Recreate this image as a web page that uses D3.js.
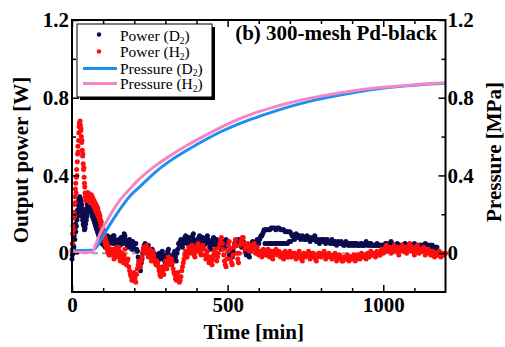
<!DOCTYPE html>
<html>
<head>
<meta charset="utf-8">
<script src="https://cdn.jsdelivr.net/npm/d3@7"></script>
<style>
  body { margin: 0; background: #fff; }
  svg text { font-family: "Liberation Serif", "Times New Roman", serif; }
</style>
</head>
<body>
<svg id="chart" width="505" height="347"></svg>
<script>
// output power, D2 run, t = 0..120 min (1-min logging)
const powerD2Early = [
  -0.03, -0.01, 0.02, 0.00, 0.04, 0.07, 0.03, 0.09, 0.11, 0.07,
  0.13, 0.15, 0.11, 0.18, 0.14, 0.20, 0.17, 0.22, 0.19, 0.25,
  0.21, 0.27, 0.23, 0.28, 0.25, 0.29, 0.26, 0.28, 0.23, 0.27,
  0.21, 0.25, 0.19, 0.23, 0.17, 0.21, 0.15, 0.20, 0.14, 0.18,
  0.12, 0.17, 0.13, 0.19, 0.15, 0.21, 0.17, 0.23, 0.19, 0.25,
  0.21, 0.26, 0.22, 0.28, 0.24, 0.29, 0.25, 0.28, 0.23, 0.27,
  0.22, 0.26, 0.21, 0.25, 0.20, 0.24, 0.19, 0.23, 0.18, 0.22,
  0.17, 0.20, 0.16, 0.19, 0.15, 0.18, 0.14, 0.17, 0.13, 0.16,
  0.12, 0.15, 0.11, 0.14, 0.10, 0.13, 0.09, 0.12, 0.08, 0.11,
  0.07, 0.10, 0.06, 0.10, 0.07, 0.09, 0.05, 0.09, 0.06, 0.10,
  0.05, 0.07, 0.04, 0.08, 0.05, 0.09, 0.06, 0.03, 0.07, 0.05,
  0.08, 0.04, 0.07, 0.05, 0.09, 0.06, 0.03, 0.07, 0.05, 0.08,
  0.06
];
// output power, H2 run, t = 0..120 min (1-min logging)
const powerH2Early = [
  0.01, 0.05, 0.10, 0.14, 0.18, 0.12, 0.21, 0.25, 0.19, 0.29,
  0.26, 0.33, 0.36, 0.31, 0.39, 0.43, 0.40, 0.47, 0.51, 0.55,
  0.52, 0.58, 0.62, 0.65, 0.67, 0.66, 0.68, 0.66, 0.63, 0.64,
  0.60, 0.57, 0.58, 0.53, 0.50, 0.51, 0.46, 0.43, 0.44, 0.39,
  0.36, 0.34, 0.31, 0.29, 0.27, 0.30, 0.28, 0.31, 0.29, 0.31,
  0.28, 0.31, 0.29, 0.31, 0.28, 0.30, 0.27, 0.30, 0.26, 0.29,
  0.29, 0.27, 0.30, 0.28, 0.26, 0.29, 0.27, 0.25, 0.28, 0.26,
  0.24, 0.27, 0.25, 0.23, 0.26, 0.24, 0.22, 0.25, 0.23, 0.21,
  0.24, 0.22, 0.20, 0.23, 0.21, 0.19, 0.21, 0.18, 0.20, 0.17,
  0.19, 0.16, 0.17, 0.14, 0.16, 0.13, 0.14, 0.11, 0.13, 0.10,
  0.12, 0.09, 0.11, 0.08, 0.09, 0.06, 0.08, 0.05, 0.07, 0.04,
  0.06, 0.03, 0.05, 0.02, 0.04, 0.01, 0.03, 0.00, 0.02, -0.01,
  0.01
];
// output power, D2 run, t = 125..1172.5 min (2.5-min logging), one row = 50 min
const powerD2Late = [
  0.08, 0.06, 0.05, 0.09, 0.09, 0.07, 0.06, 0.04, 0.03, 0.06, 0.07, 0.05, 0.04, 0.08, 0.08, 0.06, 0.05, 0.10, 0.09, 0.07,
  0.06, 0.04, 0.03, 0.06, 0.07, 0.05, 0.04, 0.02, 0.06, 0.03, 0.02, 0.05, 0.05, 0.02, 0.01, -0.02, -0.04, -0.07, -0.09, -0.05,
  -0.03, 0.00, 0.02, 0.04, 0.05, 0.03, 0.01, 0.03, 0.04, 0.01, 0.00, -0.01, -0.02, 0.02, 0.01, -0.02, -0.04, -0.01, -0.01, -0.03,
  -0.05, -0.02, 0.00, -0.01, -0.03, 0.00, 0.01, -0.01, -0.02, -0.04, -0.05, -0.02, -0.01, 0.01, 0.02, -0.01, -0.03, -0.05, -0.06, -0.03,
  -0.02, 0.00, 0.01, -0.02, -0.04, 0.00, 0.02, 0.05, 0.04, 0.06, 0.07, 0.05, 0.03, 0.05, 0.06, 0.08, 0.09, 0.06, 0.05, 0.07,
  0.08, 0.06, 0.04, 0.06, 0.07, 0.09, 0.10, 0.07, 0.06, 0.04, 0.03, 0.05, 0.07, 0.08, 0.09, 0.07, 0.05, 0.06, 0.08, 0.06,
  0.04, 0.05, 0.06, 0.08, 0.09, 0.07, 0.05, 0.03, 0.02, 0.04, 0.06, 0.07, 0.08, 0.06, 0.04, 0.05, 0.07, 0.05, 0.03, 0.04,
  0.05, 0.03, 0.02, 0.04, 0.06, 0.05, 0.03, 0.05, 0.07, 0.06, 0.04, 0.01, -0.01, 0.00, 0.02, 0.00, -0.02, 0.01, 0.03, 0.05,
  0.06, 0.05, 0.04, 0.06, 0.07, 0.06, 0.05, 0.04, 0.03, 0.05, 0.06, 0.05, 0.04, 0.01, -0.01, 0.00, 0.02, 0.00, -0.02, 0.01,
  0.04, 0.05, 0.06, 0.04, 0.03, 0.05, 0.05, 0.06, 0.07, 0.06, 0.05, 0.07, 0.08, 0.09, 0.09, 0.10, 0.11, 0.12, 0.05, 0.12,
  0.12, 0.05, 0.12, 0.05, 0.12, 0.05, 0.13, 0.05, 0.13, 0.05, 0.13, 0.05, 0.12, 0.05, 0.13, 0.05, 0.13, 0.05, 0.12, 0.05,
  0.12, 0.05, 0.12, 0.05, 0.11, 0.05, 0.11, 0.05, 0.11, 0.06, 0.11, 0.06, 0.10, 0.09, 0.09, 0.08, 0.07, 0.09, 0.10, 0.09,
  0.08, 0.09, 0.09, 0.08, 0.07, 0.08, 0.09, 0.08, 0.08, 0.07, 0.07, 0.08, 0.09, 0.08, 0.08, 0.07, 0.06, 0.07, 0.08, 0.07,
  0.07, 0.08, 0.09, 0.07, 0.06, 0.07, 0.07, 0.06, 0.05, 0.06, 0.07, 0.06, 0.06, 0.07, 0.07, 0.06, 0.05, 0.06, 0.07, 0.06,
  0.06, 0.06, 0.05, 0.06, 0.07, 0.06, 0.05, 0.05, 0.06, 0.05, 0.04, 0.05, 0.06, 0.05, 0.05, 0.05, 0.06, 0.05, 0.05, 0.04,
  0.04, 0.05, 0.06, 0.05, 0.05, 0.04, 0.04, 0.05, 0.05, 0.04, 0.04, 0.05, 0.05, 0.04, 0.04, 0.05, 0.05, 0.04, 0.04, 0.04,
  0.04, 0.05, 0.05, 0.04, 0.04, 0.04, 0.04, 0.05, 0.06, 0.05, 0.04, 0.04, 0.04, 0.05, 0.05, 0.04, 0.04, 0.04, 0.04, 0.04,
  0.04, 0.04, 0.05, 0.04, 0.04, 0.04, 0.04, 0.04, 0.04, 0.04, 0.04, 0.04, 0.04, 0.05, 0.05, 0.04, 0.04, 0.04, 0.04, 0.05,
  0.06, 0.05, 0.04, 0.04, 0.04, 0.04, 0.04, 0.04, 0.05, 0.04, 0.04, 0.04, 0.04, 0.04, 0.04, 0.04, 0.04, 0.04, 0.05, 0.04,
  0.04, 0.04, 0.04, 0.04, 0.03, 0.04, 0.04, 0.04, 0.04, 0.04, 0.05, 0.04, 0.04, 0.04, 0.03, 0.04, 0.04, 0.04, 0.04, 0.04,
  0.03, 0.04, 0.04, 0.04, 0.05, 0.04, 0.03, 0.04, 0.04, 0.04, 0.03, 0.04, 0.04, 0.04, 0.03, 0.03, 0.02, 0.03, 0.03, 0.03
];
// output power, H2 run, t = 125..1200 min (2.5-min logging), one row = 50 min
const powerH2Late = [
  -0.01, 0.01, 0.02, 0.00, -0.03, -0.01, 0.01, 0.03, -0.02, 0.00, 0.03, 0.01, -0.04, -0.02, 0.00, -0.03, -0.05, -0.01, 0.02, -0.03,
  -0.06, -0.04, -0.03, -0.07, -0.09, -0.11, -0.12, -0.14, -0.14, -0.12, -0.10, -0.13, -0.15, -0.11, -0.08, -0.06, -0.04, -0.06, -0.07, -0.04,
  -0.02, 0.01, 0.03, 0.02, 0.00, 0.02, 0.04, 0.01, -0.02, 0.00, 0.02, -0.01, -0.04, -0.02, 0.01, -0.01, -0.03, -0.05, -0.06, -0.04,
  -0.05, -0.07, -0.09, -0.11, -0.12, -0.09, -0.07, -0.09, -0.11, -0.07, -0.04, -0.06, -0.08, -0.05, -0.02, -0.04, -0.06, -0.05, -0.03, -0.05,
  -0.08, -0.10, -0.11, -0.13, -0.14, -0.12, -0.10, -0.13, -0.15, -0.14, -0.12, -0.09, -0.07, -0.05, -0.03, -0.01, 0.01, 0.00, -0.02, 0.01,
  0.03, 0.01, 0.00, 0.02, 0.04, 0.03, 0.01, -0.01, -0.02, 0.01, 0.03, 0.04, 0.05, 0.03, 0.01, 0.00, -0.01, 0.02, 0.04, 0.03,
  0.02, -0.01, -0.03, -0.01, 0.01, -0.02, -0.05, -0.03, -0.02, -0.04, -0.06, -0.03, -0.01, 0.01, 0.02, -0.01, -0.04, -0.02, 0.00, 0.03,
  0.05, 0.07, 0.08, 0.05, 0.02, -0.01, -0.04, -0.06, -0.07, -0.03, 0.01, 0.04, 0.06, 0.02, -0.03, -0.05, -0.06, -0.01, 0.03, 0.05,
  0.07, 0.04, 0.00, -0.03, -0.05, 0.00, 0.04, 0.06, 0.07, 0.08, 0.08, 0.05, 0.02, 0.03, 0.03, 0.04, 0.05, 0.03, 0.01, 0.02,
  0.04, 0.03, 0.02, 0.04, 0.05, 0.02, 0.00, 0.01, 0.03, 0.01, -0.01, 0.00, 0.01, -0.01, -0.02, 0.00, 0.02, 0.01, 0.00, -0.01,
  -0.01, 0.01, 0.02, 0.00, -0.02, -0.01, 0.01, -0.01, -0.03, -0.01, 0.00, 0.01, 0.02, 0.00, -0.01, 0.00, 0.01, -0.01, -0.02, -0.01,
  0.00, -0.02, -0.03, -0.01, 0.01, 0.00, -0.01, -0.02, -0.02, 0.00, 0.01, -0.01, -0.02, -0.01, -0.01, 0.00, 0.00, -0.02, -0.03, -0.02,
  -0.01, 0.00, 0.01, -0.01, -0.02, -0.03, -0.04, -0.02, 0.00, -0.01, -0.02, -0.01, -0.01, 0.00, 0.01, -0.01, -0.03, -0.02, -0.01, 0.00,
  0.00, -0.01, -0.02, -0.03, -0.04, -0.02, -0.01, 0.00, 0.00, -0.01, -0.02, -0.01, -0.01, 0.00, 0.01, -0.01, -0.03, -0.02, -0.02, -0.01,
  0.00, -0.01, -0.01, -0.02, -0.03, -0.02, -0.02, -0.01, 0.00, -0.02, -0.04, -0.03, -0.02, -0.01, -0.01, -0.02, -0.03, -0.04, -0.04, -0.03,
  -0.02, -0.03, -0.03, -0.02, -0.01, -0.03, -0.04, -0.03, -0.02, -0.02, -0.03, -0.02, -0.01, -0.03, -0.04, -0.03, -0.02, -0.01, -0.01, -0.02,
  -0.03, -0.01, 0.00, -0.01, -0.02, -0.02, -0.01, -0.02, -0.03, -0.01, 0.00, -0.01, -0.02, 0.00, 0.01, 0.00, -0.01, -0.01, 0.00, -0.01,
  -0.02, 0.00, 0.01, 0.00, 0.00, -0.01, -0.01, 0.01, 0.02, 0.01, 0.00, 0.01, 0.02, 0.03, 0.04, 0.02, 0.01, 0.02, 0.03, 0.01,
  0.00, 0.01, 0.02, 0.03, 0.04, 0.02, 0.01, 0.02, 0.03, 0.01, -0.01, 0.01, 0.02, 0.03, 0.04, 0.02, 0.01, 0.02, 0.03, 0.01,
  0.00, 0.01, 0.02, 0.04, 0.05, 0.03, 0.01, 0.02, 0.03, 0.01, -0.01, 0.01, 0.02, 0.03, 0.04, 0.02, 0.00, 0.01, 0.02, 0.01,
  0.01, 0.02, 0.03, 0.01, -0.01, 0.00, 0.01, 0.02, 0.02, 0.01, 0.00, -0.01, -0.01, 0.00, 0.01, -0.01, -0.02, -0.01, 0.00, -0.01,
  -0.01, 0.00, 0.01, -0.01, -0.02, -0.01, 0.00, -0.01, -0.01, 0.00, 0.00
];
// gas pressure [MPa] as [time, value]
const pressureD2 = [
  [0, 0.013], [68, 0.015], [78, 0.03], [95, 0.075], [115, 0.13], [135, 0.18],
  [160, 0.24], [190, 0.30], [220, 0.345], [270, 0.42], [320, 0.48], [375, 0.535],
  [430, 0.585], [485, 0.63], [540, 0.668], [595, 0.70], [650, 0.73], [705, 0.757],
  [760, 0.78], [815, 0.80], [870, 0.817], [925, 0.832], [980, 0.845],
  [1040, 0.856], [1110, 0.866], [1200, 0.874]
];
const pressureH2 = [
  [0, 0.005], [64, 0.005], [75, 0.04], [90, 0.10], [110, 0.16], [130, 0.215],
  [154, 0.273], [180, 0.32], [207, 0.367], [260, 0.44], [314, 0.50], [370, 0.555],
  [421, 0.60], [475, 0.645], [528, 0.685], [580, 0.717], [635, 0.745], [690, 0.77],
  [742, 0.79], [795, 0.807], [849, 0.822], [900, 0.835], [956, 0.846],
  [1010, 0.855], [1063, 0.862], [1130, 0.87], [1200, 0.877]
];

const xMajor = [0, 500, 1000];
const xMinor = [100, 200, 300, 400, 600, 700, 800, 900, 1100];
const yMajor = [0, 0.4, 0.8, 1.2];
const yMinor = [0.2, 0.6, 1.0];

const legendItems = [
  { label: 'Power (D', sub: '2', type: 'dot', color: '#0b0b4d', mark: 34.5, base: 41 },
  { label: 'Power (H', sub: '2', type: 'dot', color: '#ff0d0d', mark: 51.5, base: 57 },
  { label: 'Pressure (D', sub: '2', type: 'line', color: '#1f8ef0', mark: 68.5, base: 73.5 },
  { label: 'Pressure (H', sub: '2', type: 'line', color: '#f586c6', mark: 83.5, base: 89 }
];

const plotL = 72, plotR = 445.5, plotT = 20, plotB = 292;
const svg = d3.select('#chart');

const x = d3.scaleLinear().domain([0, 1200]).range([plotL, plotR]);
const y = d3.scaleLinear().domain([-0.2, 1.2]).range([plotB, plotT]);

const early = d3.range(0, 121, 1);
const lateD2 = d3.range(125, 1175, 2.5);
const lateH2 = d3.range(125, 1201, 2.5);
const d2 = early.map((t, i) => [t, powerD2Early[i]]).concat(lateD2.map((t, i) => [t, powerD2Late[i]]));
const h2 = early.map((t, i) => [t, powerH2Early[i]]).concat(lateH2.map((t, i) => [t, powerH2Late[i]]));

// zero reference line
svg.append('line')
  .attr('x1', x(0)).attr('x2', x(1200))
  .attr('y1', y(0)).attr('y2', y(0))
  .attr('stroke', '#a0a0a0').attr('stroke-width', 2)
  .attr('stroke-dasharray', '6,4');

// power dots
svg.append('g').selectAll('circle').data(d2.filter(d => d[1] != null)).join('circle')
  .attr('cx', d => x(d[0])).attr('cy', d => y(d[1]))
  .attr('r', 2.5).attr('fill', '#0b0b4d');
svg.append('g').selectAll('circle').data(h2.filter(d => d[1] != null)).join('circle')
  .attr('cx', d => x(d[0])).attr('cy', d => y(d[1]))
  .attr('r', 2.5).attr('fill', '#ff0d0d');

// pressure curves (right axis, same scale)
const line = d3.line().x(d => x(d[0])).y(d => y(d[1])).curve(d3.curveMonotoneX);
svg.append('path').datum(pressureD2)
  .attr('fill', 'none').attr('stroke', '#1f8ef0').attr('stroke-width', 3)
  .attr('d', line);
svg.append('path').datum(pressureH2)
  .attr('fill', 'none').attr('stroke', '#f586c6').attr('stroke-width', 3)
  .attr('d', line);

// axes
const fmt = d => d === 0 ? '0' : d3.format('.1f')(d);
function styleAxis(g) {
  g.select('.domain').remove();
  g.selectAll('line').attr('stroke', '#000').attr('stroke-width', 1.5);
  g.selectAll('text').attr('font-size', 21).attr('font-weight', 'bold')
    .attr('font-family', '"Liberation Serif", serif').attr('fill', '#000');
}
svg.append('g').attr('transform', `translate(0,${plotB})`)
  .call(d3.axisBottom(x).tickValues(xMajor).tickSize(-7).tickPadding(5).tickFormat(d3.format('d')))
  .call(styleAxis);
svg.append('g').attr('transform', `translate(0,${plotB})`)
  .call(d3.axisBottom(x).tickValues(xMinor).tickSize(-4).tickFormat(''))
  .call(styleAxis);
svg.append('g').attr('transform', `translate(0,${plotT})`)
  .call(d3.axisTop(x).tickValues(xMajor).tickSize(-7).tickFormat(''))
  .call(styleAxis);
svg.append('g').attr('transform', `translate(0,${plotT})`)
  .call(d3.axisTop(x).tickValues(xMinor).tickSize(-4).tickFormat(''))
  .call(styleAxis);
svg.append('g').attr('transform', `translate(${plotL},0)`)
  .call(d3.axisLeft(y).tickValues(yMajor).tickSize(-7).tickPadding(3).tickFormat(fmt))
  .call(styleAxis);
svg.append('g').attr('transform', `translate(${plotL},0)`)
  .call(d3.axisLeft(y).tickValues(yMinor).tickSize(-4).tickFormat(''))
  .call(styleAxis);
svg.append('g').attr('transform', `translate(${plotR},0)`)
  .call(d3.axisRight(y).tickValues(yMajor).tickSize(-7).tickPadding(2).tickFormat(fmt))
  .call(styleAxis);
svg.append('g').attr('transform', `translate(${plotR},0)`)
  .call(d3.axisRight(y).tickValues(yMinor).tickSize(-4).tickFormat(''))
  .call(styleAxis);

// frame
svg.append('rect')
  .attr('x', plotL).attr('y', plotT)
  .attr('width', plotR - plotL).attr('height', plotB - plotT)
  .attr('fill', 'none').attr('stroke', '#000').attr('stroke-width', 2);

// axis titles
svg.append('text')
  .attr('x', (plotL + plotR) / 2 - 5).attr('y', 339)
  .attr('text-anchor', 'middle').attr('font-size', 21).attr('font-weight', 'bold')
  .text('Time [min]');
svg.append('text')
  .attr('transform', 'translate(28,160) rotate(-90)')
  .attr('text-anchor', 'middle').attr('font-size', 21).attr('font-weight', 'bold')
  .text('Output power [W]');
svg.append('text')
  .attr('transform', 'translate(501,152) rotate(-90)')
  .attr('text-anchor', 'middle').attr('font-size', 21).attr('font-weight', 'bold')
  .text('Pressure [MPa]');

// panel title
svg.append('text')
  .attr('x', 437).attr('y', 40)
  .attr('text-anchor', 'end').attr('font-size', 21).attr('font-weight', 'bold')
  .text('(b) 300-mesh Pd-black');

// legend
const lg = svg.append('g');
lg.append('rect').attr('x', 80).attr('y', 27).attr('width', 135).attr('height', 73).attr('fill', '#000');
lg.append('rect').attr('x', 77).attr('y', 24).attr('width', 135).attr('height', 73)
  .attr('fill', '#fff').attr('stroke', '#000').attr('stroke-width', 1);
legendItems.forEach(it => {
  if (it.type === 'dot') {
    lg.append('circle').attr('cx', 99).attr('cy', it.mark).attr('r', 2.2).attr('fill', it.color);
  } else {
    lg.append('line').attr('x1', 83).attr('x2', 117).attr('y1', it.mark).attr('y2', it.mark)
      .attr('stroke', it.color).attr('stroke-width', 3);
  }
  const t = lg.append('text').attr('x', 120).attr('y', it.base).attr('font-size', 15.5);
  t.append('tspan').text(it.label);
  t.append('tspan').attr('font-size', 9.5).attr('dy', 2.5).text(it.sub);
  t.append('tspan').attr('dy', -2.5).text(')');
});
</script>
</body>
</html>
